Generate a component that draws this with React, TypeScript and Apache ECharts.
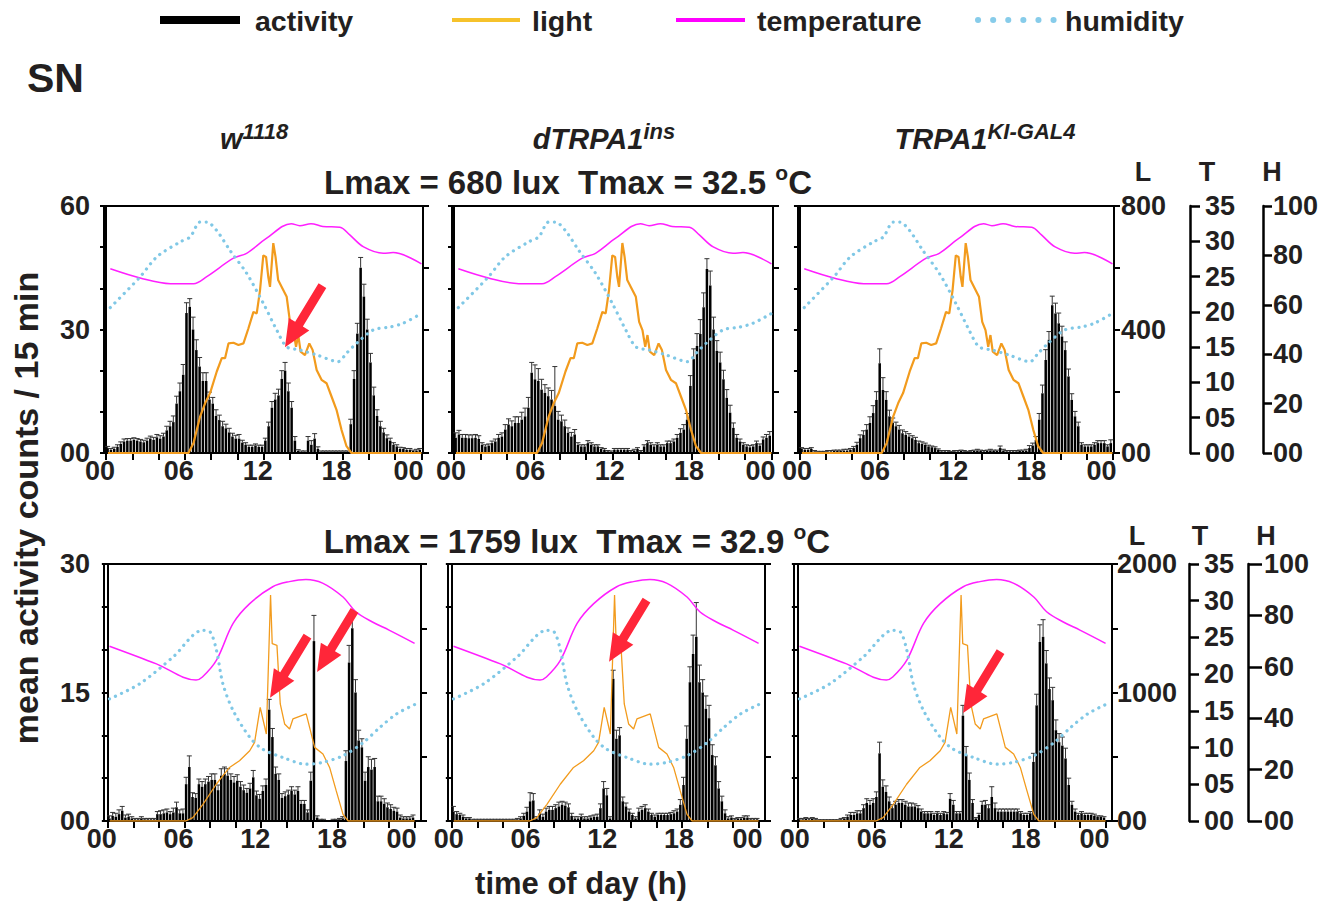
import { useEffect, useRef } from 'react';
import * as echarts from 'echarts';

const FONT = '"Liberation Sans", Arial, Helvetica, sans-serif';
const INK = '#231f20';

// ---- time axis ----
const hourTicks = [0, 2, 4, 6, 8, 10, 12, 14, 16, 18, 20, 22, 24];
const hourLabels = [0, 6, 12, 18, 24];

// ---- activity (mean counts / 15 min, 96 bins) : row 1 (Lmax 680 lux) ----
const actW1118Low = [
  1.2, 0.8, 1.0, 1.5, 2.2, 2.8, 3.0, 3.0, 3.2, 3.0, 2.8, 2.6, 3.0, 3.5, 3.2, 3.8,
  3.5, 4.0, 5.5, 6.5, 7.5, 12, 15, 19, 34, 35.5, 30, 25, 21, 17.5, 17.5, 13,
  12, 9, 8, 6.5, 6, 5, 4, 3.5, 3.5, 2.5, 2, 1.5, 1.5, 1.8, 1.5, 1.5,
  3, 6.5, 11, 13, 14, 18, 20, 15, 11, 3, 0.5, 0.3, 0.3, 3, 2, 3.5,
  1, 0.3, 0.3, 0.3, 0.3, 0.3, 0.3, 0.3, 0.3, 0.3, 7, 18, 29, 45, 38, 30,
  22, 14, 9, 6.5, 5, 3.6, 3, 2, 1.6, 1, 1, 0.8, 0.8, 0.5, 0.6, 0.8,
];
const errW1118Low = [
  0.4, 0.3, 0.4, 0.5, 0.5, 0.6, 0.5, 0.5, 0.5, 0.5, 0.5, 0.5, 0.6, 0.6, 0.6, 0.7,
  0.7, 0.8, 1.0, 1.2, 1.5, 1.8, 2.0, 2.5, 2.5, 2.0, 3.0, 2.5, 2.2, 2.0, 2.0, 1.8,
  1.5, 1.5, 1.2, 1.2, 1.0, 1.0, 0.8, 0.8, 1.0, 0.6, 0.5, 0.4, 0.4, 0.4, 0.4, 0.4,
  0.6, 1.0, 1.5, 1.5, 1.5, 2.0, 2.0, 2.0, 1.5, 1.0, 0.3, 0.2, 0.2, 1.0, 1.0, 1.2,
  0.5, 0.2, 0.2, 0.2, 0.2, 0.2, 0.2, 0.2, 0.2, 0.2, 1.2, 2.0, 2.5, 2.5, 3.0, 2.5,
  2.2, 2.0, 1.5, 1.2, 1.0, 0.8, 0.6, 0.5, 0.4, 0.4, 0.3, 0.3, 0.3, 0.2, 0.3, 0.3,
];
const actInsLow = [
  3.7, 4.5, 3.7, 3.7, 3.6, 3.6, 3.7, 3.4, 2.0, 1.6, 1.8, 2.4, 2.8, 3.7, 4.0, 5.7,
  6.9, 6.5, 7.3, 7.3, 8.1, 8.9, 11, 19.5, 17.9, 17.5, 15.4, 14.6, 13.8, 13, 11.4, 8.1,
  7.7, 6.5, 4.9, 4.0, 4.5, 2.0, 1.6, 1.6, 2.4, 2.0, 1.6, 1.6, 1.0, 0.8, 0.4, 0.3,
  0.8, 0.8, 0.8, 0.8, 0.8, 0.4, 0.6, 1.0, 0.4, 1.6, 2.4, 2.0, 1.6, 2.0, 1.6, 1.6,
  2.4, 2.4, 2.8, 3.7, 4.9, 5.7, 8.1, 16.3, 22.8, 26, 28.9, 35.4, 44.7, 40.7, 30, 24.8,
  22, 17.9, 13.4, 9.8, 6.1, 3.7, 2.8, 2.0, 1.6, 1.4, 1.6, 2.4, 1.8, 3.3, 3.7, 4.2,
];
const errInsLow = [
  1.2, 1.0, 0.8, 0.8, 0.8, 0.8, 0.8, 0.8, 0.5, 0.4, 0.4, 0.5, 0.6, 0.8, 0.9, 1.2,
  1.4, 1.3, 1.5, 1.5, 1.8, 2.0, 2.5, 2.5, 3.5, 3.0, 2.5, 2.0, 2.0, 2.2, 9.6, 2.0,
  1.5, 1.5, 1.2, 1.0, 1.2, 0.5, 0.4, 0.4, 0.6, 0.5, 0.4, 0.4, 0.3, 0.3, 0.2, 0.2,
  0.3, 0.3, 0.3, 0.3, 0.3, 0.2, 0.3, 0.3, 0.2, 0.4, 0.6, 0.5, 0.4, 0.5, 0.4, 0.4,
  0.5, 0.5, 0.6, 0.8, 1.0, 1.2, 1.5, 2.5, 2.5, 3.0, 3.5, 3.5, 2.5, 3.5, 3.0, 2.5,
  2.5, 2.2, 2.0, 1.8, 1.2, 0.8, 0.6, 0.5, 0.4, 0.4, 0.4, 0.5, 0.4, 0.6, 0.8, 1.0,
];
const actKiLow = [
  1.0, 0.8, 0.8, 1.0, 0.4, 0.3, 0.3, 0.3, 0.4, 0.4, 0.5, 0.5, 0.5, 0.6, 0.6, 0.8,
  1.2, 2.0, 3.6, 4.4, 5.7, 7.3, 9.7, 12.9, 21.8, 15.3, 12.9, 8.9, 7.3, 6.5, 5.7, 4.8,
  4.4, 4.0, 3.6, 3.2, 2.4, 2.2, 2.0, 1.6, 1.4, 1.2, 0.8, 0.4, 0.4, 0.4, 0.3, 0.4,
  0.4, 0.5, 0.4, 0.3, 0.4, 0.5, 0.6, 0.5, 0.4, 0.5, 0.6, 0.5, 0.5, 1.2, 0.6, 0.4,
  0.4, 0.4, 0.4, 0.5, 0.5, 0.6, 1.2, 1.8, 3.2, 8.1, 14.5, 22.6, 27.5, 35.9, 33.9, 31.5,
  28.3, 25, 18.6, 12.9, 8.9, 6.5, 2.0, 1.6, 1.6, 1.6, 2.0, 2.4, 2.4, 2.4, 1.6, 2.4,
];
const errKiLow = [
  0.3, 0.3, 0.3, 0.3, 0.2, 0.1, 0.1, 0.1, 0.2, 0.2, 0.2, 0.2, 0.2, 0.3, 0.3, 0.3,
  0.4, 0.6, 0.8, 1.0, 1.2, 1.5, 1.8, 2.0, 3.5, 3.0, 2.0, 1.5, 1.2, 1.0, 1.0, 0.8,
  0.8, 0.7, 0.6, 0.6, 0.5, 0.5, 0.4, 0.3, 0.3, 0.3, 0.2, 0.2, 0.2, 0.2, 0.1, 0.2,
  0.2, 0.2, 0.2, 0.1, 0.2, 0.2, 0.3, 0.2, 0.2, 0.2, 0.3, 0.2, 0.2, 0.5, 0.3, 0.2,
  0.2, 0.2, 0.2, 0.2, 0.2, 0.3, 0.6, 0.6, 0.8, 1.5, 2.0, 2.5, 2.0, 2.2, 2.5, 2.5,
  2.5, 2.0, 1.8, 1.5, 1.2, 1.0, 0.5, 0.4, 0.4, 0.4, 0.5, 0.6, 0.6, 0.6, 0.4, 0.8,
];

// ---- activity : row 2 (Lmax 1759 lux) ----
const actW1118High = [
  0.3, 0.6, 0.5, 0.8, 1.2, 0.4, 0.5, 0.3, 0.2, 0.2, 0.3, 0.2, 0.2, 0.2, 0.2, 0.8,
  0.8, 0.9, 1.0, 0.8, 1.0, 1.6, 0.9, 0.9, 4.3, 6.3, 2.8, 2.7, 4.3, 4.0, 4.3, 4.6,
  4.8, 4.8, 3.6, 5.3, 5.5, 5.3, 4.8, 4.5, 4.7, 4.0, 3.6, 3.3, 3.8, 5.1, 3.0, 2.6,
  3.5, 4.2, 13, 9.8, 5.5, 4.8, 2.7, 2.9, 3.1, 3.5, 3.1, 3.5, 2.0, 2.0, 1.0, 4.7,
  21, 0.4, 0.1, 0.1, 0.0, 0.0, 0.1, 0.1, 0.2, 0.3, 7.0, 18.5, 22.5, 15, 9.4, 8.6,
  4.7, 6.3, 6.0, 6.3, 2.3, 2.3, 2.0, 1.6, 1.4, 1.2, 1.1, 0.4, 0.3, 0.3, 0.3, 0.4,
];
const errW1118High = [
  0.3, 0.4, 0.4, 0.5, 0.5, 0.3, 0.3, 0.2, 0.1, 0.1, 0.2, 0.1, 0.1, 0.1, 0.1, 0.3,
  0.4, 0.4, 0.4, 0.3, 0.5, 0.6, 0.4, 0.5, 0.8, 1.3, 0.5, 0.5, 0.6, 0.6, 0.6, 0.6,
  0.7, 0.7, 0.6, 0.8, 0.8, 0.8, 0.7, 0.7, 0.7, 0.6, 0.6, 0.5, 0.6, 0.8, 0.5, 0.5,
  0.6, 0.7, 1.2, 1.0, 0.8, 0.7, 0.5, 0.5, 0.5, 0.5, 0.5, 0.5, 0.4, 0.4, 0.3, 1.0,
  3.0, 0.2, 0.1, 0.1, 0.0, 0.0, 0.1, 0.1, 0.1, 0.2, 1.2, 2.0, 2.0, 1.5, 1.2, 1.0,
  1.0, 1.2, 1.2, 1.0, 0.6, 0.6, 0.6, 0.5, 0.5, 0.4, 0.4, 0.3, 0.2, 0.2, 0.2, 0.3,
];
const actInsHigh = [
  1.1, 0.8, 0.7, 0.5, 0.3, 0.3, 0.1, 0.1, 0.1, 0.1, 0.1, 0.1, 0.1, 0.1, 0.1, 0.1,
  0.1, 0.1, 0.1, 0.1, 0.2, 0.3, 0.6, 1.1, 2.3, 2.4, 0.3, 0.9, 0.5, 1.1, 1.3, 1.3,
  1.5, 1.7, 1.9, 1.8, 1.6, 0.6, 0.3, 0.3, 0.5, 0.3, 0.3, 0.4, 0.5, 0.5, 1.5, 3.8,
  3.0, 0.3, 16.6, 9.6, 10, 2.3, 1.7, 1.1, 0.7, 0.3, 1.1, 1.3, 1.5, 1.1, 0.7, 0.5,
  0.7, 0.7, 0.7, 0.7, 0.8, 0.9, 1.1, 1.9, 4.2, 9.6, 16.2, 19.5, 21.5, 16.2, 15, 13.1,
  12, 7.7, 6.5, 3.8, 2.3, 0.9, 0.3, 0.4, 0.2, 0.3, 0.3, 0.4, 0.4, 0.2, 0.2, 0.2,
];
const errInsHigh = [
  0.6, 0.3, 0.2, 0.2, 0.1, 0.1, 0.1, 0.1, 0.1, 0.1, 0.1, 0.1, 0.1, 0.1, 0.1, 0.1,
  0.1, 0.1, 0.1, 0.1, 0.1, 0.2, 0.3, 0.5, 1.0, 0.8, 0.2, 0.4, 0.3, 0.4, 0.4, 0.4,
  0.4, 0.5, 0.4, 0.4, 0.4, 0.3, 0.2, 0.2, 0.3, 0.2, 0.2, 0.2, 0.2, 0.3, 0.5, 0.8,
  0.8, 0.2, 1.0, 1.0, 0.9, 0.5, 0.4, 0.3, 0.2, 0.2, 0.4, 0.4, 0.4, 0.3, 0.2, 0.2,
  0.2, 0.2, 0.2, 0.2, 0.2, 0.3, 0.3, 0.6, 0.9, 1.5, 1.8, 2.2, 4.0, 2.0, 1.5, 1.5,
  1.5, 1.2, 1.0, 0.8, 0.6, 0.4, 0.2, 0.2, 0.1, 0.1, 0.1, 0.2, 0.2, 0.1, 0.1, 0.1,
];
const actKiHigh = [
  0.2, 0.2, 0.3, 0.2, 0.3, 0.2, 0.1, 0.1, 0.1, 0.1, 0.1, 0.1, 0.1, 0.2, 0.3, 0.5,
  0.7, 0.7, 0.9, 0.9, 1.5, 2.1, 1.9, 2.1, 2.8, 7.9, 4.0, 3.4, 2.3, 1.5, 1.9, 2.1,
  2.1, 1.9, 1.7, 1.7, 1.7, 1.5, 1.1, 0.9, 0.9, 0.9, 0.7, 0.9, 0.7, 0.9, 0.8, 2.6,
  1.9, 0.9, 0.9, 12.3, 7.7, 4.8, 2.1, 0.3, 0.7, 1.9, 1.9, 1.5, 2.8, 1.5, 1.1, 1.1,
  1.1, 1.1, 1.1, 1.1, 1.1, 0.9, 0.7, 0.7, 0.9, 6.9, 13.5, 20.9, 21.5, 18.4, 15.4, 14.1,
  10.6, 9.2, 8.8, 7.3, 4.2, 1.9, 1.1, 0.7, 0.9, 0.7, 0.7, 0.7, 0.6, 0.5, 0.5, 0.4,
];
const errKiHigh = [
  0.1, 0.1, 0.1, 0.1, 0.1, 0.1, 0.05, 0.05, 0.05, 0.05, 0.05, 0.05, 0.05, 0.1, 0.1, 0.2,
  0.3, 0.3, 0.3, 0.3, 0.4, 0.5, 0.5, 0.5, 0.6, 1.3, 0.8, 0.7, 0.5, 0.4, 0.4, 0.4,
  0.4, 0.4, 0.4, 0.4, 0.3, 0.3, 0.3, 0.2, 0.2, 0.2, 0.2, 0.2, 0.2, 0.2, 0.2, 0.6,
  0.5, 0.2, 0.2, 1.2, 1.0, 0.8, 0.4, 0.1, 0.2, 0.4, 0.5, 0.4, 1.2, 0.6, 0.3, 0.3,
  0.3, 0.3, 0.3, 0.3, 0.3, 0.2, 0.2, 0.2, 0.2, 1.0, 1.3, 2.0, 2.0, 1.5, 1.3, 1.5,
  1.2, 1.0, 1.0, 1.2, 0.8, 0.4, 0.3, 0.2, 0.2, 0.2, 0.2, 0.2, 0.2, 0.1, 0.1, 0.1,
];

// ---- environment : row 1 ----
const lightLowHours = [0.15, 6.28, 6.66, 7.16, 7.54, 7.92, 8.43, 8.81, 9.06, 9.32, 9.7, 10.08, 10.46, 10.84, 11.22, 11.47, 11.72, 11.97, 12.18, 12.35, 12.48, 12.73, 12.9, 13.1, 13.37, 13.75, 14.0, 14.25, 14.46, 14.63, 14.81, 15.14, 15.47, 15.72, 16.03, 16.4, 16.78, 17.16, 17.54, 17.92, 18.3, 18.68, 24];
const lightLowLux = [0, 0, 32, 118, 161, 194, 264, 307, 307, 355, 357, 350, 355, 404, 457, 452, 527, 640, 635, 570, 538, 680, 635, 560, 538, 506, 425, 398, 344, 382, 328, 317, 355, 334, 269, 237, 226, 183, 140, 75, 22, 0, 0];
const tempLowHours = [0.33, 2.6, 4.9, 6.66, 7.67, 9.7, 10.7, 12.2, 14.1, 14.75, 15.6, 16.5, 17.8, 18.55, 19.6, 21.1, 21.85, 24];
const tempLowC = [26.1, 24.8, 24.0, 24.0, 25.0, 27.6, 28.3, 30.4, 32.5, 32.2, 32.5, 32.1, 32.0, 30.9, 29.2, 28.3, 28.4, 26.8];
const humLowHours = [0.33, 2.6, 3.87, 5.65, 6.41, 7.16, 7.67, 8.43, 9.44, 10.71, 11.97, 12.99, 13.75, 14.76, 16.03, 17.67, 18.3, 19.06, 20.33, 21.6, 22.6, 24];
const humLowPct = [58.9, 71.3, 79.4, 85.5, 87.5, 93.5, 93.5, 90, 82, 72.7, 60.6, 49.8, 43, 41.7, 39.7, 37, 40.4, 44.4, 49.8, 51, 52.5, 56.5];

// ---- environment : row 2 ----
const lightHighHours = [0.15, 6.1, 6.65, 7.44, 8.48, 9.52, 10.3, 11.1, 11.48, 11.92, 12.4, 12.73, 12.86, 13.23, 13.49, 13.83, 14.22, 14.48, 15.52, 16.18, 16.83, 17.35, 17.87, 18.4, 18.8, 24];
const lightHighLux = [0, 0, 26, 130, 286, 417, 469, 547, 612, 885, 677, 1759, 1380, 1367, 911, 755, 716, 794, 833, 573, 521, 417, 234, 52, 0, 0];
const tempHighHours = [0.13, 3.8, 6.9, 7.4, 8.5, 9.8, 11.1, 12.9, 14.2, 15.5, 16.8, 18.4, 19.4, 20.7, 22, 24];
const tempHighC = [23.8, 21.4, 19.2, 19.6, 21.9, 26.9, 29.6, 31.9, 32.6, 32.9, 32.4, 30.5, 28.5, 27.1, 26, 24.2];
const humHighHours = [0.13, 2.5, 5.1, 7.4, 8.0, 8.5, 9.0, 9.8, 11.1, 12.1, 13.7, 15.5, 16.8, 18.4, 20, 21.3, 22.6, 24];
const humHighPct = [47.5, 53.4, 63.8, 74.2, 73.6, 66.4, 53.4, 43, 32.6, 28, 24.7, 22.1, 22.8, 25.4, 30.6, 36.5, 41.7, 45.3];

// ---- scales ----
const rowActMax = [60, 30];
const rowActStep = [10, 5];
const rowActLabels = [[0, 30, 60], [0, 15, 30]];
const rowLightMax = [800, 2000];
const rowLightLabels = [[0, 400, 800], [0, 1000, 2000]];
const tempMax = 35;
const tempStep = 5;
const humMax = 100;
const humStep = 20;

// ---- arrows (tip position in data units) ----
const arrowPanel = [0, 3, 3, 4, 5];
const arrowHour = [13.62, 12.69, 16.37, 12.3, 12.89];
const arrowValue = [25.7, 14.4, 17.4, 18.6, 12.6];

const panelAct = [actW1118Low, actInsLow, actKiLow, actW1118High, actInsHigh, actKiHigh];
const panelErr = [errW1118Low, errInsLow, errKiLow, errW1118High, errInsHigh, errKiHigh];

// layout (pixels)
const grids = [
  { left: 104, top: 206, width: 319, height: 247 },
  { left: 452, top: 206, width: 321, height: 247 },
  { left: 798, top: 206, width: 316, height: 247 },
  { left: 104, top: 564, width: 317, height: 257 },
  { left: 448, top: 564, width: 317, height: 257 },
  { left: 794, top: 564, width: 318, height: 257 },
];

const pad2 = (v: number) => String(v).padStart(2, '0');
const TICK_FS = 27;

function arrowPoints(tx: number, ty: number) {
  const dx = -0.52, dy = 0.854;
  const nx = 0.854, ny = 0.52;
  const L = 72, H = 27, hw = 12, sw = 4.5;
  const bx = tx - dx * H, by = ty - dy * H;
  const ex = tx - dx * L, ey = ty - dy * L;
  return [
    [tx, ty],
    [bx + nx * hw, by + ny * hw],
    [bx + nx * sw, by + ny * sw],
    [ex + nx * sw, ey + ny * sw],
    [ex - nx * sw, ey - ny * sw],
    [bx - nx * sw, by - ny * sw],
    [bx - nx * hw, by - ny * hw],
  ];
}

function buildOption() {
  const xAxis: any[] = [];
  const yAxis: any[] = [];
  const series: any[] = [];
  const labelBase = { fontFamily: FONT, fontSize: TICK_FS, fontWeight: 'bold', color: INK };
  const richTok = (padRight: number) => ({ fontFamily: FONT, fontSize: TICK_FS, fontWeight: 'bold', color: INK, padding: [0, padRight, 0, 0] });
  for (let p = 0; p < 6; p++) {
    const row = p < 3 ? 0 : 1;
    const col = p % 3;
    xAxis.push({
      type: 'value', gridIndex: p,
      min: row === 0 ? -0.15 : -0.3, max: row === 0 ? 24.12 : 24.5,
      axisLine: { show: true, onZero: false, lineStyle: { color: '#000', width: 2 } },
      axisTick: { show: true, customValues: hourTicks, length: 7, lineStyle: { color: '#000', width: 2 } },
      axisLabel: {
        ...labelBase, show: true, customValues: hourLabels, margin: 4,
        formatter: (v: number) => (v === 24 ? `{e|00}` : `{s|${pad2(v)}}`),
        rich: { s: richTok(col === 0 ? 12 : 6), e: richTok(col === 0 ? 26 : 22) },
      },
      splitLine: { show: false },
    });
    // activity
    yAxis.push({
      type: 'value', gridIndex: p, position: 'left', min: 0, max: rowActMax[row], interval: rowActStep[row],
      axisLine: { show: true, lineStyle: { color: '#000', width: 2 } },
      axisTick: { show: true, length: 6, lineStyle: { color: '#000', width: 2 } },
      axisLabel: { ...labelBase, show: col === 0, customValues: rowActLabels[row], margin: 14, formatter: (v: number) => pad2(v) },
      splitLine: { show: false },
    });
    // light
    yAxis.push({
      type: 'value', gridIndex: p, position: 'right', min: 0, max: rowLightMax[row], interval: rowLightMax[row] / 4,
      axisLine: { show: true, lineStyle: { color: '#000', width: 2 } },
      axisTick: { show: true, length: 6, lineStyle: { color: '#000', width: 2 } },
      axisLabel: { ...labelBase, show: col === 2, customValues: rowLightLabels[row], margin: row === 0 ? 7 : 5, formatter: (v: number) => pad2(v) },
      splitLine: { show: false },
    });
    // temperature
    yAxis.push({
      type: 'value', gridIndex: p, position: 'right', show: col === 2,
      offset: row === 0 ? 76 : 77, min: 0, max: tempMax, interval: tempStep,
      axisLine: { show: true, lineStyle: { color: '#000', width: 2.5 } },
      axisTick: { show: true, length: 10, lineStyle: { color: '#000', width: 2.5 } },
      axisLabel: { ...labelBase, margin: 15, formatter: (v: number) => pad2(v) },
      splitLine: { show: false },
    });
    // humidity
    yAxis.push({
      type: 'value', gridIndex: p, position: 'right', show: col === 2,
      offset: row === 0 ? 149 : 136, min: 0, max: humMax, interval: humStep,
      axisLine: { show: true, lineStyle: { color: '#000', width: 2.5 } },
      axisTick: { show: true, length: row === 0 ? 9 : 14, lineStyle: { color: '#000', width: 2.5 } },
      axisLabel: { ...labelBase, margin: row === 0 ? 10 : 16, formatter: (v: number) => pad2(v) },
      splitLine: { show: false },
    });

    const act = panelAct[p];
    const err = panelErr[p];
    const lightH = row === 0 ? lightLowHours : lightHighHours;
    const lightV = row === 0 ? lightLowLux : lightHighLux;
    const tempH = row === 0 ? tempLowHours : tempHighHours;
    const tempV = row === 0 ? tempLowC : tempHighC;
    const humH = row === 0 ? humLowHours : humHighHours;
    const humV = row === 0 ? humLowPct : humHighPct;

    series.push({
      type: 'bar', xAxisIndex: p, yAxisIndex: p * 4, barWidth: 2.5, z: 2,
      itemStyle: { color: '#000' },
      data: act.map((v, i) => [(i + 0.5) / 4, v]),
    });
    series.push({
      type: 'custom', xAxisIndex: p, yAxisIndex: p * 4, z: 3,
      data: act.map((v, i) => [(i + 0.5) / 4, v, err[i]]),
      renderItem: (params: any, api: any) => {
        const x = api.value(0), v = api.value(1), e = api.value(2);
        if (!(e > 0)) return null;
        const p0 = api.coord([x, v]);
        const p1 = api.coord([x, v + e]);
        return {
          type: 'group',
          children: [
            { type: 'line', shape: { x1: p0[0], y1: p0[1], x2: p1[0], y2: p1[1] }, style: { stroke: '#333', lineWidth: 1 } },
            { type: 'line', shape: { x1: p1[0] - 2.5, y1: p1[1], x2: p1[0] + 2.5, y2: p1[1] }, style: { stroke: '#333', lineWidth: 1 } },
          ],
        };
      },
    });
    series.push({
      type: 'line', xAxisIndex: p, yAxisIndex: p * 4 + 1, z: 4, showSymbol: false, symbol: 'none',
      lineStyle: { color: '#F29B1D', width: row === 0 ? 2.2 : 1.3 },
      data: lightH.map((h, i) => [h, lightV[i]]),
    });
    series.push({
      type: 'line', xAxisIndex: p, yAxisIndex: p * 4 + 2, z: 4, showSymbol: false, symbol: 'none', smooth: 0.35,
      lineStyle: { color: '#FF1FFF', width: 1.5 },
      data: tempH.map((h, i) => [h, tempV[i]]),
    });
    series.push({
      type: 'line', xAxisIndex: p, yAxisIndex: p * 4 + 3, z: 5, showSymbol: false, symbol: 'none', smooth: 0.3,
      lineStyle: { color: '#80C8E6', width: 3.2, type: [0.1, 6.5], cap: 'round' },
      data: humH.map((h, i) => [h, humV[i]]),
    });
  }

  return {
    animation: false,
    backgroundColor: '#fff',
    grid: grids.map((g) => ({ ...g, show: true, borderColor: '#000', borderWidth: 2, backgroundColor: 'transparent' })),
    xAxis,
    yAxis,
    series,
  };
}

function staticGraphics() {
  const t = (text: string, x: number, y: number, size: number, extra: any = {}) => ({
    type: 'text', x, y, z: 20,
    style: { text, fontFamily: FONT, fontSize: size, fontWeight: 'bold', fill: INK, align: 'left', verticalAlign: 'middle', ...extra },
  });
  const richSup = (main: string, sup: string, size: number, supSize: number, italic: boolean, tail = '') => ({
    text: `{m|${main}}{s|${sup}}` + (tail ? `{m|${tail}}` : ''),
    rich: {
      m: { fontFamily: FONT, fontSize: size, fontWeight: 'bold', fontStyle: italic ? 'italic' : 'normal', fill: INK, lineHeight: size + 4, verticalAlign: 'bottom' },
      s: { fontFamily: FONT, fontSize: supSize, fontWeight: 'bold', fontStyle: italic ? 'italic' : 'normal', fill: INK, lineHeight: supSize, verticalAlign: 'top', padding: [0, 0, Math.round(size * 0.45), 0] },
    },
  });
  const g: any[] = [];
  // legend
  g.push({ type: 'rect', shape: { x: 160, y: 16, width: 80, height: 8 }, style: { fill: '#000' }, z: 20 });
  g.push(t('activity', 255, 21, 28.5));
  g.push({ type: 'line', shape: { x1: 452, y1: 20, x2: 520, y2: 20 }, style: { stroke: '#F6C22B', lineWidth: 4 }, z: 20 });
  g.push(t('light', 532, 21, 28.5));
  g.push({ type: 'line', shape: { x1: 676, y1: 20, x2: 745, y2: 20 }, style: { stroke: '#FF00FF', lineWidth: 4 }, z: 20 });
  g.push(t('temperature', 757, 21, 28.5));
  g.push({ type: 'line', shape: { x1: 978, y1: 20, x2: 1055, y2: 20 }, style: { stroke: '#87CCEA', lineWidth: 6, lineDash: [0.1, 15], lineCap: 'round' }, z: 20 });
  g.push(t('humidity', 1065, 21, 28.5));
  // SN
  g.push(t('SN', 27, 78, 41));
  // genotypes
  g.push({ type: 'text', x: 254, y: 137, z: 20, style: { ...richSup('w', '1118', 29, 22, true), align: 'center', verticalAlign: 'middle' } });
  g.push({ type: 'text', x: 604, y: 137, z: 20, style: { ...richSup('dTRPA1', 'ins', 29, 22, true), align: 'center', verticalAlign: 'middle' } });
  g.push({ type: 'text', x: 985, y: 137, z: 20, style: { ...richSup('TRPA1', 'KI-GAL4', 29, 22, true), align: 'center', verticalAlign: 'middle' } });
  // condition titles
  g.push({ type: 'text', x: 568, y: 180, z: 20, style: { ...richSup('Lmax = 680 lux  Tmax = 32.5 ', 'o', 33, 21, false, 'C'), align: 'center', verticalAlign: 'middle' } });
  g.push({ type: 'text', x: 577, y: 539, z: 20, style: { ...richSup('Lmax = 1759 lux  Tmax = 32.9 ', 'o', 33, 21, false, 'C'), align: 'center', verticalAlign: 'middle' } });
  // L T H headers
  g.push(t('L', 1143, 172, 27, { align: 'center' }));
  g.push(t('T', 1207, 172, 27, { align: 'center' }));
  g.push(t('H', 1272, 172, 27, { align: 'center' }));
  g.push(t('L', 1137, 536, 27, { align: 'center' }));
  g.push(t('T', 1200, 536, 27, { align: 'center' }));
  g.push(t('H', 1266, 536, 27, { align: 'center' }));
  // axis titles
  g.push({ type: 'text', x: 26, y: 508, rotation: Math.PI / 2, z: 20, style: { text: 'mean activity counts / 15 min', fontFamily: FONT, fontSize: 34, fontWeight: 'bold', fill: INK, align: 'center', verticalAlign: 'middle' } });
  g.push(t('time of day (h)', 581, 883, 31, { align: 'center' }));
  return g;
}

export default function App() {
  const ref = useRef<HTMLDivElement>(null);
  useEffect(() => {
    if (!ref.current) return;
    const chart = echarts.init(ref.current, undefined, { renderer: 'svg' });
    chart.setOption(buildOption());
    const arrows = arrowPanel.map((panel, k) => {
      const pt = chart.convertToPixel({ seriesIndex: panel * 5 }, [arrowHour[k], arrowValue[k]]) as number[];
      return { type: 'polygon', z: 30, shape: { points: arrowPoints(pt[0], pt[1]) }, style: { fill: '#FF2639' } };
    });
    chart.setOption({ graphic: [...staticGraphics(), ...arrows] });
    return () => chart.dispose();
  }, []);
  return <div ref={ref} style={{ position: 'absolute', left: 0, top: 0, width: 1323, height: 904 }} />;
}
